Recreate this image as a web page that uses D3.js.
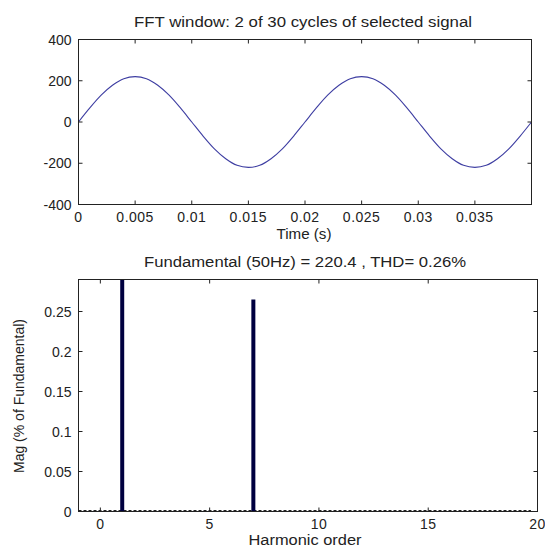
<!DOCTYPE html>
<html>
<head>
<meta charset="utf-8">
<script src="https://cdn.jsdelivr.net/npm/d3@7"></script>
<style>
  body { margin: 0; background: #fff; }
  svg text { font-family: "Liberation Sans", Arial, sans-serif; fill: #222; }
</style>
</head>
<body>
<script>
var timeValues = [0, 0.001, 0.002, 0.003, 0.004, 0.005, 0.006, 0.007, 0.008, 0.009,
  0.010, 0.011, 0.012, 0.013, 0.014, 0.015, 0.016, 0.017, 0.018, 0.019,
  0.020, 0.021, 0.022, 0.023, 0.024, 0.025, 0.026, 0.027, 0.028, 0.029,
  0.030, 0.031, 0.032, 0.033, 0.034, 0.035, 0.036, 0.037, 0.038, 0.039, 0.040];
var signalValues = [0, 68, 130, 178, 210, 220, 210, 178, 130, 68,
  0, -68, -130, -178, -210, -220, -210, -178, -130, -68,
  0, 68, 130, 178, 210, 220, 210, 178, 130, 68,
  0, -68, -130, -178, -210, -220, -210, -178, -130, -68, 0];
var timeTicks = [0, 0.005, 0.01, 0.015, 0.02, 0.025, 0.03, 0.035];
var timeTickLabels = ['0', '0.005', '0.01', '0.015', '0.02', '0.025', '0.03', '0.035'];
var signalTicks = [-400, -200, 0, 200, 400];

// harmonic spectrum
var harmonicOrders = [0, 1, 2, 3, 4, 5, 6, 7, 8, 9, 10, 11, 12, 13, 14, 15, 16, 17, 18, 19, 20];
var harmonicMags = [0, 100, 0, 0, 0, 0, 0, 0.265, 0, 0, 0, 0, 0, 0, 0, 0, 0, 0, 0, 0, 0];
var orderTicks = [0, 5, 10, 15, 20];
var magTicks = [0, 0.05, 0.1, 0.15, 0.2, 0.25];
var magTickLabels = ['0', '0.05', '0.1', '0.15', '0.2', '0.25'];

var width = 545;
var height = 548;

var svg = d3.select('body').append('svg')
  .attr('width', width)
  .attr('height', height);

var drawFrame = function(g, x, y, xTicks, xLabels, yTicks, yLabels) {
  var x0 = x.range()[0], x1 = x.range()[1];
  var y0 = y.range()[0], y1 = y.range()[1];

  // ticks inside on all four sides
  xTicks.forEach(function(t) {
    g.append('line').attr('x1', x(t)).attr('x2', x(t)).attr('y1', y0).attr('y2', y0 - 4)
      .attr('stroke', '#222');
    g.append('line').attr('x1', x(t)).attr('x2', x(t)).attr('y1', y1).attr('y2', y1 + 4)
      .attr('stroke', '#222');
  });
  yTicks.forEach(function(t) {
    g.append('line').attr('x1', x0).attr('x2', x0 + 4).attr('y1', y(t)).attr('y2', y(t))
      .attr('stroke', '#222');
    g.append('line').attr('x1', x1).attr('x2', x1 - 4).attr('y1', y(t)).attr('y2', y(t))
      .attr('stroke', '#222');
  });

  g.append('rect')
    .attr('x', x0).attr('y', y1)
    .attr('width', x1 - x0).attr('height', y0 - y1)
    .attr('fill', 'none')
    .attr('stroke', '#222')
    .attr('stroke-width', 1);

  g.selectAll('.xlab').data(xTicks).enter().append('text')
    .attr('x', function(d) { return x(d); })
    .attr('y', y0 + 17)
    .attr('text-anchor', 'middle')
    .attr('font-size', 14)
    .attr('letter-spacing', 0.5)
    .text(function(d, i) { return xLabels[i]; });

  g.selectAll('.ylab').data(yTicks).enter().append('text')
    .attr('x', x0 - 7)
    .attr('y', function(d) { return y(d) + 5; })
    .attr('text-anchor', 'end')
    .attr('font-size', 14)
    .text(function(d, i) { return yLabels[i]; });
};

// horizontal labels in the source are drawn a bit wider than the font
var label = function(g, x, y, txt, len) {
  g.append('text')
    .attr('x', x).attr('y', y)
    .attr('text-anchor', 'middle')
    .attr('font-size', 14)
    .attr('textLength', len)
    .attr('lengthAdjust', 'spacingAndGlyphs')
    .text(txt);
};

/*---------------- top: signal ----------------*/
var xTime = d3.scaleLinear().domain([0, 0.04]).range([78.5, 531.5]);
var ySig = d3.scaleLinear().domain([-400, 400]).range([204.5, 39.5]);

var sigPlot = svg.append('g');

var line = d3.line()
  .x(function(d, i) { return xTime(timeValues[i]); })
  .y(function(d) { return ySig(d); })
  .curve(d3.curveCatmullRom);

sigPlot.append('path')
  .datum(signalValues)
  .attr('d', line)
  .attr('fill', 'none')
  .attr('stroke', '#3e3ea2')
  .attr('stroke-width', 1.1);

drawFrame(sigPlot, xTime, ySig, timeTicks, timeTickLabels, signalTicks,
  signalTicks.map(function(d) { return String(d); }));

label(sigPlot, 303, 27, 'FFT window: 2 of 30 cycles of selected signal', 338);
label(sigPlot, 304, 239, 'Time (s)', 55);

/*---------------- bottom: spectrum ----------------*/
var xOrd = d3.scaleLinear().domain([-1, 20]).range([78.5, 537.5]);
var yMag = d3.scaleLinear().domain([0, 0.29]).range([511.5, 279.5]);

var specPlot = svg.append('g');

specPlot.append('clipPath').attr('id', 'clip')
  .append('rect')
  .attr('x', 78.5).attr('y', 279.5)
  .attr('width', 459).attr('height', 232);

specPlot.append('line')
  .attr('x1', xOrd(-1)).attr('x2', xOrd(19.7))
  .attr('y1', yMag(0) - 1).attr('y2', yMag(0) - 1)
  .attr('stroke', '#222')
  .attr('stroke-dasharray', '3,2');

specPlot.append('g').attr('clip-path', 'url(#clip)')
  .selectAll('rect').data(harmonicMags).enter().append('rect')
  .attr('x', function(d, i) { return xOrd(harmonicOrders[i]) - 2; })
  .attr('y', function(d) { return yMag(d); })
  .attr('width', 4)
  .attr('height', function(d) { return yMag(0) - yMag(d); })
  .attr('fill', '#000040');

drawFrame(specPlot, xOrd, yMag, orderTicks, orderTicks.map(function(d) { return String(d); }),
  magTicks, magTickLabels);

label(specPlot, 305, 267, 'Fundamental (50Hz) = 220.4 , THD= 0.26%', 322);
label(specPlot, 305, 545, 'Harmonic order', 113);

specPlot.append('text')
  .attr('transform', 'translate(24,396) rotate(-90)')
  .attr('text-anchor', 'middle')
  .attr('font-size', 14)
  .text('Mag (% of Fundamental)');
</script>
</body>
</html>
